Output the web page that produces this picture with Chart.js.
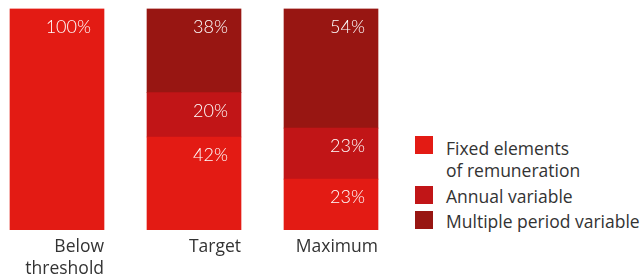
<!DOCTYPE html>
<html><head><meta charset="utf-8">
<script src="https://cdn.jsdelivr.net/npm/chart.js@4"></script>
<style>
html,body{margin:0;padding:0;background:#fff;}
#wrap{position:relative;width:641px;height:277px;overflow:hidden;}
#c{position:absolute;left:-12px;top:0;}
.lg{position:absolute;font-family:'Open Sans', sans-serif;font-weight:400;font-size:17.5px;line-height:22px;color:#333;white-space:nowrap;}
.bx{position:absolute;width:18px;height:18px;}
</style></head><body>
<div id="wrap"><canvas id="c" width="420" height="286"></canvas><div id="legend"></div></div>
<script>
const categories = [["Below", "threshold"], "Target", "Maximum"];
const seriesNames = [["Fixed elements", "of remuneration"], ["Annual variable"], ["Multiple period variable"]];
const fixedValues = [100, 42, 23];
const annualValues = [null, 20, 23];
const multiValues = [null, 38, 54];
const seriesColors = ["#E31B14", "#C11517", "#981612"];

const valueLabels = {
  id: 'valueLabels',
  afterDatasetsDraw(chart) {
    const ctx = chart.ctx;
    ctx.save();
    ctx.font = '300 18px Lato';
    ctx.fillStyle = '#fff';
    ctx.textAlign = 'right';
    ctx.textBaseline = 'middle';
    chart.data.datasets.forEach((ds, i) => {
      const meta = chart.getDatasetMeta(i);
      meta.data.forEach((bar, j) => {
        const v = ds.data[j];
        if (!v) return;
        const p = bar.getProps(['x', 'y', 'width'], true);
        ctx.fillText(v + '%', p.x + p.width / 2 - 13, p.y + 18.5);
      });
    });
    ctx.restore();
  }
};

const seriesValues = [fixedValues, annualValues, multiValues];
new Chart(document.getElementById('c'), {
  type: 'bar',
  data: {
    labels: categories,
    datasets: seriesValues.map((vals, i) => ({
      label: seriesNames[i].join(' '),
      data: vals,
      backgroundColor: seriesColors[i],
      borderWidth: 0,
      barThickness: 94
    }))
  },
  options: {
    responsive: false,
    animation: false,
    devicePixelRatio: 1,
    layout: { padding: { left: 0.5, right: 8.5, top: 8.5, bottom: 0 } },
    plugins: { legend: { display: false }, tooltip: { enabled: false } },
    scales: {
      x: {
        stacked: true,
        offset: true,
        grid: { display: false, drawTicks: false },
        border: { display: false },
        afterFit: (s) => { s.paddingLeft = 0; s.paddingRight = 0; },
        ticks: {
          align: 'end',
          labelOffset: 47,
          padding: 6,
          color: '#333',
          font: { family: 'Open Sans', weight: '400', size: 17.5, lineHeight: '22px' }
        }
      },
      y: { stacked: true, min: 0, max: 100, display: false }
    }
  },
  plugins: [valueLabels]
});

// legend
const legend = document.getElementById('legend');
const boxTops = [136, 186, 211];
const textTops = [137, 185, 210];
seriesNames.forEach((name, i) => {
  const b = document.createElement('div');
  b.className = 'bx';
  b.style.left = '415px';
  b.style.top = boxTops[i] + 'px';
  b.style.background = seriesColors[i];
  legend.appendChild(b);
  const t = document.createElement('div');
  t.className = 'lg';
  t.style.left = '446px';
  t.style.top = textTops[i] + 'px';
  t.innerHTML = name.join('<br>');
  legend.appendChild(t);
});
</script>
</body></html>
